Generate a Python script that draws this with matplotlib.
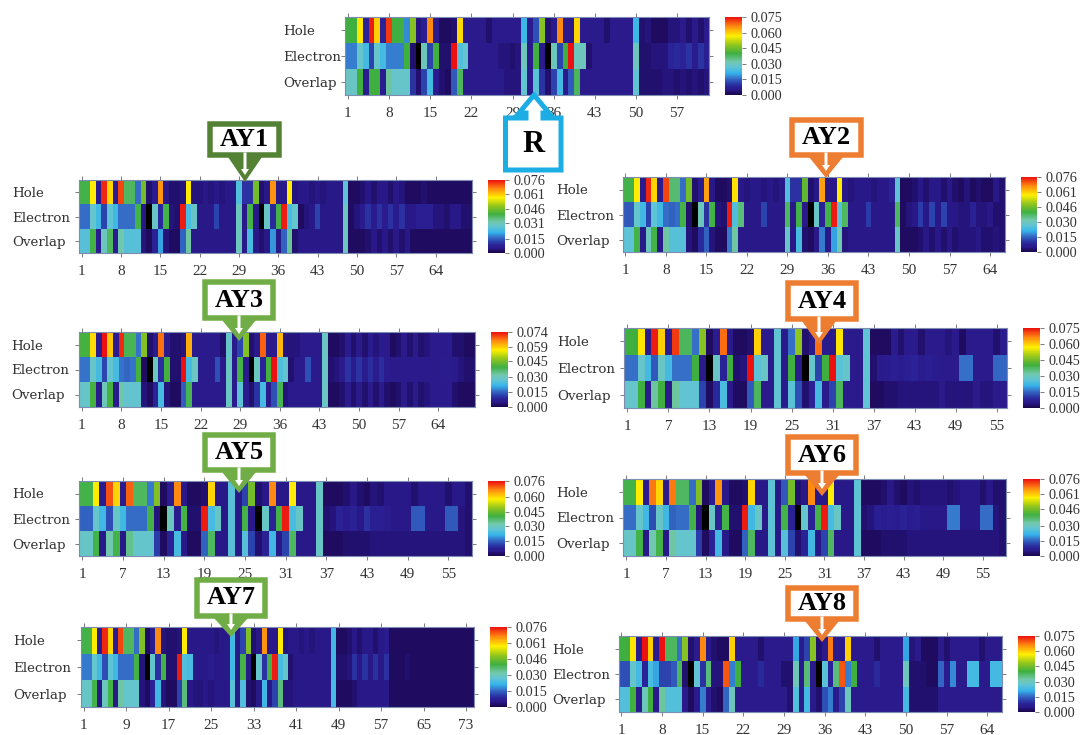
import matplotlib
matplotlib.use("Agg")
import matplotlib.pyplot as plt
import numpy as np
from matplotlib.colors import LinearSegmentedColormap, Normalize
from matplotlib.patches import Polygon, Rectangle

W, H = 1082, 735
rows = ["Hole", "Electron", "Overlap"]

# values, in units of 0.001 (-1 marks the black cells)
r_hole = [40,40,58,8,74,60,8,72,40,40, 18,47,4,7,66,5,2,2,3,59, 5,5,5,5,3,5,5,5,5,5, 22,6,13,47,3,5,66,5,5,59, 5,5,5,5,3,5,5,5,5,22, 3,4,2,2,2,4,4,5,3,5, 3,5]
r_elec = [17,17,28,23,12,28,23,17,17,17, 40,3,-1,30,12,40,3,3,75,25, 27,5,5,5,5,5,4,4,3,4, 30,5,40,5,-1,30,12,40,75,30, 30,3,5,5,5,5,5,5,5,30, 3,3,4,4,4,8,9,8,10,6, 10,7]
r_over = [29,29,40,6,40,40,6,33,28,28, 28,10,3,12,23,5,3,2,14,38, 5,5,5,5,5,5,5,4,4,4, 27,5,26,10,3,12,23,5,14,38, 5,5,5,5,5,5,5,5,5,27, 3,3,3,3,4,4,3,4,3,4, 3,4]

ay1_hole = [40,40,58,6,74,60,6,72,38,38, 16,46,3,6,66,5,3,3,4,58, 4,4,5,4,5,4,5,5,25,10, 10,46,3,5,66,5,5,58,4,5, 5,4,5,4,5,5,5,27,2,2, 3,5,3,5,5,3,5,4,2,2, 2,3,2,2,2,2,2,2,2,2]
ay1_elec = [16,16,28,23,12,27,23,16,16,16, 40,5,-1,29,9,40,4,3,75,24, 29,5,5,5,12,5,5,5,30,5, 40,5,-1,29,9,40,75,24,28,2, 4,5,12,5,5,5,5,30,2,4, 6,10,6,10,6,10,6,10,5,5, 7,7,7,4,4,3,5,5,3,3]
ay1_over = [26,26,40,6,30,38,6,32,26,26, 26,4,2,8,20,4,2,2,15,33, 5,5,5,5,5,5,5,5,30,5, 24,5,3,5,19,5,15,34,3,5, 5,5,5,5,5,5,5,30,2,2, 2,3,5,3,5,3,5,3,5,2, 2,2,2,2,2,2,2,2,2,2]

ay2_hole = [40,40,58,6,74,60,6,72,37,37, 16,46,3,6,65,5,2,2,3,59, 5,4,5,5,4,5,4,5,25,10, 10,44,3,5,65,5,5,58,5,4, 5,5,5,4,5,5,8,27,2,2, 3,5,3,5,5,3,5,3,2,4, 2,3,2,2,5,3]
ay2_elec = [14,14,28,23,12,27,23,16,15,16, 40,3,-1,30,10,40,4,3,75,25, 36,5,5,5,12,5,5,5,38,5, 40,5,-1,29,8,40,75,26,38,5, 5,5,11,5,5,5,5,38,2,4, 5,11,5,12,5,12,5,5,4,4, 8,4,4,5,3,3]
ay2_over = [27,27,40,5,30,40,5,33,26,26, 26,4,2,9,15,4,2,2,17,33, 5,5,5,5,5,5,5,5,29,5, 24,3,2,5,17,5,20,32,4,5, 5,5,5,5,5,5,5,29,2,2, 2,3,5,3,5,3,5,3,4,4, 4,5,3,3,4,3]

ay3_hole = [40,40,58,6,74,60,6,72,38,38, 16,46,3,6,67,5,3,3,4,62, 5,5,5,5,5,3,28,5,12,46, 3,5,68,5,5,61,4,4,4,5, 5,5,5,29,2,2,3,6,3,5, 3,6,4,6,5,2,3,5,3,5, 3,4,5,5,5,6,3,3,2,2]
ay3_elec = [16,16,28,23,12,27,23,16,15,16, 40,2,-1,29,9,40,3,3,75,23, 29,5,5,5,13,5,29,5,39,5, -1,29,8,40,75,24,27,3,5,5, 13,5,5,29,3,4,5,10,6,10, 6,9,6,9,6,5,5,5,5,5, 5,5,5,5,6,6,5,4,3,3]
ay3_over = [28,28,40,5,30,40,5,32,27,27, 27,4,2,8,23,4,2,2,14,38, 5,5,5,5,5,5,29,5,26,5, 3,10,23,5,13,38,4,5,5,5, 5,5,5,29,2,2,3,5,3,5, 3,5,3,5,3,2,3,5,3,5, 3,4,5,5,5,6,3,2,2,2]

ay4_hole = [40,40,58,6,74,60,6,72,38,38, 16,47,2,6,68,5,2,2,3,60, 5,5,27,5,16,48,3,5,68,5, 5,58,5,5,5,27,2,2,2,6, 3,5,5,3,5,5,5,4,5,2, 5,5,5,5,3,5]
ay4_elec = [16,16,28,23,14,29,23,16,16,16, 40,5,-1,29,8,40,3,4,75,26, 29,5,27,5,40,5,-1,28,12,40, 75,26,28,5,5,27,3,5,6,7, 6,7,8,6,7,6,5,5,5,16, 16,5,5,5,15,15]
ay4_over = [28,28,40,5,33,40,5,33,27,27, 27,12,2,9,24,5,2,2,14,38, 5,5,27,5,26,13,3,8,23,5, 12,38,5,5,5,27,2,2,3,3, 4,4,4,4,4,4,5,4,4,4, 4,5,4,4,5,5]

ay5_hole = [40,40,58,6,71,60,6,70,38,38, 17,47,2,6,67,5,2,2,3,60, 5,5,26,5,12,46,3,5,67,5, 5,58,5,5,5,29,2,2,2,3, 5,3,2,4,3,5,5,5,5,3, 5,5,5,5,3,5,5,3]
ay5_elec = [15,15,28,23,13,29,23,16,16,16, 40,4,-1,30,6,40,3,3,75,24, 29,5,26,5,40,5,-1,29,8,40, 75,24,29,5,5,29,3,4,8,6, 8,5,10,7,7,6,5,5,5,14, 14,5,5,5,14,14,4,3]
ay5_over = [29,29,40,5,32,40,5,35,28,28, 28,11,2,8,24,5,2,2,15,38, 5,5,26,5,26,12,3,8,23,5, 12,38,5,5,5,29,2,2,2,3, 3,3,3,4,4,4,4,4,4,4, 4,4,4,4,4,4,4,3]

ay6_hole = [40,40,58,6,68,60,6,68,38,38, 16,47,2,6,66,5,2,2,3,60, 5,5,27,5,14,46,3,5,67,5, 5,58,5,5,5,27,2,2,2,3, 5,3,2,4,3,4,4,4,4,3, 4,5,5,5,3,5,3,3]
ay6_elec = [16,16,28,23,13,29,23,15,16,16, 40,4,-1,29,8,40,3,3,75,23, 29,5,27,5,40,8,-1,28,8,40, 75,24,29,5,5,27,3,4,7,6, 7,6,8,6,7,5,5,5,5,17, 17,5,5,5,16,16,4,3]
ay6_over = [29,29,40,5,32,40,5,33,28,28, 28,11,2,8,23,5,2,2,15,38, 5,5,27,5,26,12,3,8,23,5, 12,38,5,5,5,27,2,2,2,3, 3,3,3,4,4,4,4,4,4,4, 4,4,4,4,4,4,4,3]

ay7_hole = [40,40,58,6,74,60,6,72,38,38, 16,47,2,6,67,4,3,3,4,58, 5,5,5,5,5,4,5,5,23,5, 12,47,3,5,66,5,5,58,4,5, 5,4,5,4,5,5,5,23,2,2, 3,5,3,5,5,3,5,6,2,2, 2,2,2,2,2,2,2,2,2,2, 2,2,2,2]
ay7_elec = [17,17,28,23,13,27,23,16,16,16, 40,4,-1,28,10,40,3,3,75,25, 24,5,5,5,6,5,5,5,23,5, 40,5,-1,28,10,40,75,24,28,3, 5,5,5,5,5,5,5,23,3,3, 4,10,5,10,5,10,5,10,2,2, 2,3,2,2,2,2,2,2,2,2, 2,2,2,2]
ay7_over = [29,29,40,5,30,40,5,33,28,28, 28,4,2,8,23,4,2,2,12,36, 5,4,4,5,4,5,5,5,26,5, 25,3,2,5,23,5,12,36,4,4, 5,5,5,5,5,5,5,24,2,2, 2,3,5,5,5,5,5,5,2,2, 2,2,2,2,2,2,2,2,2,2, 2,2,2,2]

ay8_hole = [40,40,58,6,75,60,6,75,38,38, 16,47,3,6,66,5,3,2,2,60, 5,5,5,5,3,5,5,5,5,5, 20,5,12,47,3,5,67,5,5,60, 5,5,5,5,3,5,5,5,5,20, 4,5,2,2,2,5,3,5,5,5, 5,5,3,5,5,5]
ay8_elec = [13,13,28,23,8,24,20,12,12,14, 38,3,-1,27,10,36,4,4,70,17, 40,5,5,5,9,5,5,5,3,3, 31,5,36,5,-1,26,8,36,70,17, 40,5,5,5,9,5,5,5,5,30, 3,3,3,2,2,15,6,18,5,5, 23,23,5,5,23,23]
ay8_over = [25,25,40,5,30,40,5,33,25,25, 25,5,2,5,17,5,3,2,15,30, 5,5,5,5,5,5,5,5,5,3, 25,5,23,5,3,13,17,5,12,30, 5,5,5,5,5,5,5,5,5,23, 3,3,3,3,3,5,5,5,5,5, 5,5,5,5,5,5]

cbar_076a = [0.000, 0.015, 0.031, 0.046, 0.061, 0.076]
cbar_076b = [0.000, 0.015, 0.030, 0.046, 0.061, 0.076]
cbar_076c = [0.000, 0.015, 0.030, 0.045, 0.060, 0.076]
cbar_075 = [0.000, 0.015, 0.030, 0.045, 0.060, 0.075]
cbar_074 = [0.000, 0.015, 0.030, 0.045, 0.059, 0.074]

ticks_7 = [1, 8, 15, 22, 29, 36, 43, 50, 57, 64]
ticks_r = [1, 8, 15, 22, 29, 36, 43, 50, 57]
ticks_6 = [1, 7, 13, 19, 25, 31, 37, 43, 49, 55]
ticks_8 = [1, 9, 17, 25, 33, 41, 49, 57, 65, 73]

# panel geometry in picture pixels: left, right, top, bottom, bar left, bar right, label x
panels = [
    ("R", (r_hole, r_elec, r_over), ticks_r, cbar_075, (345, 709.5, 17, 95, 725, 742, 283)),
    ("AY1", (ay1_hole, ay1_elec, ay1_over), ticks_7, cbar_076a, (79, 472, 180, 253, 488, 505, 12)),
    ("AY2", (ay2_hole, ay2_elec, ay2_over), ticks_7, cbar_076b, (622.5, 1004.5, 177, 252, 1021, 1037, 556)),
    ("AY3", (ay3_hole, ay3_elec, ay3_over), ticks_7, cbar_074, (79, 475, 332, 407, 491, 508, 11)),
    ("AY4", (ay4_hole, ay4_elec, ay4_over), ticks_6, cbar_075, (624, 1007, 328, 408, 1023, 1040, 557)),
    ("AY5", (ay5_hole, ay5_elec, ay5_over), ticks_6, cbar_076c, (79, 472, 481, 556, 488, 505, 12)),
    ("AY6", (ay6_hole, ay6_elec, ay6_over), ticks_6, cbar_076b, (623, 1006, 479, 556, 1023, 1040, 556)),
    ("AY7", (ay7_hole, ay7_elec, ay7_over), ticks_8, cbar_076b, (81, 474, 627, 707, 490, 507, 13)),
    ("AY8", (ay8_hole, ay8_elec, ay8_over), ticks_7, cbar_075, (618.5, 1002, 636, 712, 1018, 1035, 552)),
]

anchors = [(0, "#1a0648"), (3, "#221070"), (5, "#2a1a8c"), (8, "#2a2296"), (12, "#2c45b0"),
           (16, "#3570c8"), (21, "#35b4ea"), (27, "#62c4d2"), (32, "#72c8ac"), (40, "#3fb040"),
           (48, "#8fc41e"), (57, "#fff000"), (66, "#ff8c10"), (75, "#ec1010")]
cmap = LinearSegmentedColormap.from_list("hole_electron", [(v / 75, c) for v, c in anchors])
cmap.set_under("black")

plt.rcParams["font.family"] = ["Liberation Serif", "DejaVu Serif"]
TXT = "#333333"
EDGE = "#7d8cb0"
fig = plt.figure(figsize=(W / 100, H / 100), dpi=100)


def px_axes(left, right, top, bottom, **kw):
    return fig.add_axes([left / W, 1 - bottom / H, (right - left) / W, (bottom - top) / H], **kw)


for name, series, xt, cb, (l, r, t, b, bl, br, lx) in panels:
    z = 4 if name == "AY8" else 1
    ax = px_axes(l, r, t, b, zorder=z)
    data = np.array(series, dtype=float) / 1000
    norm = Normalize(0, cb[-1])
    n = data.shape[1]
    mesh = ax.pcolormesh(np.arange(0.5, n + 1), np.arange(4), data, cmap=cmap, norm=norm)
    ax.set_ylim(3, 0)
    ax.set_xticks(xt)
    ax.set_xticklabels([str(v) for v in xt], fontsize=11, color=TXT)
    ax.set_yticks([0.5, 1.5, 2.5])
    ax.set_yticklabels(rows, fontsize=9.6, color=TXT, ha="left", family="DejaVu Serif")
    ticklen = 3
    ax.tick_params(axis="x", top=True, bottom=True, length=ticklen, width=0.6, color="#666666", pad=5.5)
    ax.tick_params(axis="y", left=True, right=True, length=ticklen, width=0.6, color="#666666",
                   pad=(l - lx) * 0.72 - ticklen)
    for s in ax.spines.values():
        s.set_color(EDGE)
        s.set_linewidth(0.8)
    cax = px_axes(bl, br, t, b, zorder=z)
    cbar = fig.colorbar(mesh, cax=cax)
    cbar.set_ticks(cb)
    cbar.set_ticklabels([f"{v:.3f}" for v in cb])
    cbar.ax.tick_params(length=3, width=0.6, color="#666666", labelsize=10.3, labelcolor=TXT, pad=2.8)
    cbar.outline.set_visible(False)

# white mask that cuts off the AY7 bar labels, under the AY8 panel
mask = px_axes(0, W, 0, H, zorder=3)
mask.set_xlim(0, W); mask.set_ylim(H, 0); mask.axis("off"); mask.patch.set_alpha(0)
mask.add_patch(Rectangle((549, 618), 60, 117, fc="white", ec="none"))

# call-outs
over = px_axes(0, W, 0, H, zorder=5)
over.set_xlim(0, W); over.set_ylim(H, 0); over.axis("off"); over.patch.set_alpha(0)

DG, G, O, B = "#548235", "#70ad47", "#ed7d31", "#1cade4"
callouts = [
    ("AY1", DG, 207.5, 282, 121, 158, 245, 182),
    ("AY2", O, 789, 864, 117, 158, 826, 178),
    ("AY3", G, 202, 276, 279, 321, 239, 341),
    ("AY4", O, 785, 859, 280, 322, 819, 345),
    ("AY5", G, 202, 276, 432, 473, 239, 493),
    ("AY6", O, 785, 859, 434, 476, 822, 496),
    ("AY7", G, 194, 268, 577, 619, 231, 637),
    ("AY8", O, 785, 859, 585, 622, 822, 642),
]
LW = 5.5
for label, col, x0, x1, y0, y1, tx, ty in callouts:
    over.add_patch(Polygon([(tx - 17, y1 - 1), (tx + 17, y1 - 1), (tx, ty)], fc=col, ec="none"))
    over.add_patch(Rectangle((x0 + LW / 2, y0 + LW / 2), x1 - x0 - LW, y1 - y0 - LW,
                             fc="white", ec=col, lw=LW * 0.72, joinstyle="miter"))
    over.add_patch(Polygon([(tx - 1.5, y1 - LW), (tx + 1.5, y1 - LW), (tx + 1.5, ty - 13),
                            (tx + 4, ty - 13), (tx, ty - 7), (tx - 4, ty - 13), (tx - 1.5, ty - 13)],
                           fc="white", ec="none"))
    over.text((x0 + x1) / 2, (y0 + y1) / 2, label, ha="center", va="center",
              fontsize=19, fontweight="bold", color="black")

over.add_patch(Polygon([(505.5, 170), (561, 170), (561, 118), (543, 118), (543, 113), (549, 113),
                        (534, 95), (519, 113), (526, 113), (526, 118), (505.5, 118)],
                       fc="white", ec=B, lw=3.6, joinstyle="miter"))
over.text(533.5, 144, "R", ha="center", va="center", fontsize=22, fontweight="bold", color="black")

fig.savefig("out.png", dpi=100, facecolor="white")
